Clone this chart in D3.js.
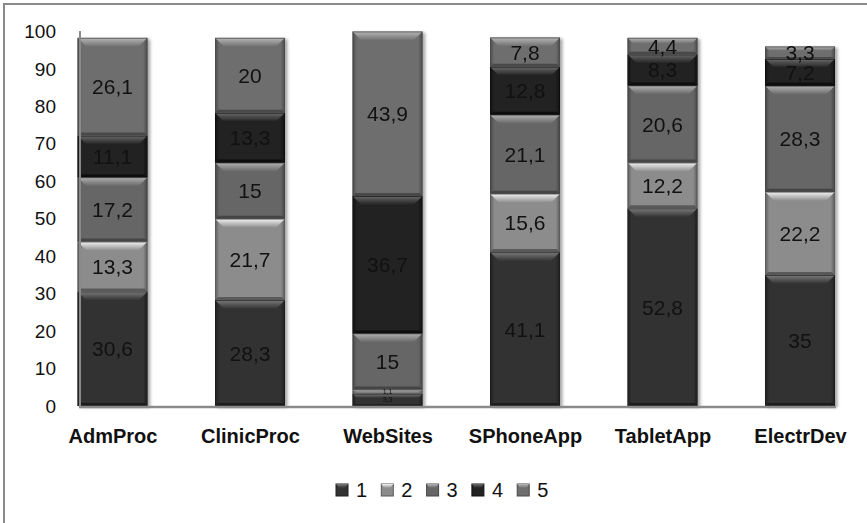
<!DOCTYPE html>
<html>
<head>
<meta charset="utf-8">
<script src="https://cdn.jsdelivr.net/npm/d3@7/dist/d3.min.js"></script>
<style>
  html, body { margin: 0; padding: 0; background: #fff; }
  svg { display: block; }
</style>
</head>
<body>
<svg id="chart" width="867" height="523"></svg>
<script>
// Categories and the five stacked series (percent shares)
const categories = ["AdmProc", "ClinicProc", "WebSites", "SPhoneApp", "TabletApp", "ElectrDev"];
const seriesNames = ["1", "2", "3", "4", "5"];
const series1 = [30.6, 28.3, 3.3, 41.1, 52.8, 35];
const series2 = [13.3, 21.7, 1.1, 15.6, 12.2, 22.2];
const series3 = [17.2, 15, 15, 21.1, 20.6, 28.3];
const series4 = [11.1, 13.3, 36.7, 12.8, 8.3, 7.2];
const series5 = [26.1, 20, 43.9, 7.8, 4.4, 3.3];
const yTicks = [0, 10, 20, 30, 40, 50, 60, 70, 80, 90, 100];

const allSeries = [series1, series2, series3, series4, series5];
const rows = categories.map((c, i) => {
  const r = { category: c };
  seriesNames.forEach((s, k) => { r[s] = allSeries[k][i]; });
  return r;
});

// Fill, bevel highlight and edge tones per series
const baseFill = ["#323232", "#8c8c8c", "#666666", "#222222", "#6e6e6e"];
const hiFill   = ["#7c7c7c", "#f4f4f4", "#b4b4b4", "#6a6a6a", "#b8b8b8"];
const edgeFill = ["#1e1e1e", "#5a5a5a", "#454545", "#111111", "#4a4a4a"];

const svg = d3.select("#chart");
const defs = svg.append("defs");

const shadow = defs.append("filter").attr("id", "shadow")
  .attr("x", "-10%").attr("y", "-5%").attr("width", "130%").attr("height", "115%");
shadow.append("feDropShadow").attr("dx", 2.5).attr("dy", 1.5)
  .attr("stdDeviation", 1.6).attr("flood-color", "#000").attr("flood-opacity", 0.35);

seriesNames.forEach((s, k) => {
  const g = defs.append("linearGradient").attr("id", "bevel" + k)
    .attr("x1", 0).attr("y1", 0).attr("x2", 0).attr("y2", 1);
  g.append("stop").attr("offset", "0%").attr("stop-color", hiFill[k]);
  g.append("stop").attr("offset", "100%").attr("stop-color", baseFill[k]);
  const b = defs.append("linearGradient").attr("id", "body" + k)
    .attr("x1", 0).attr("y1", 0).attr("x2", 1).attr("y2", 0);
  b.append("stop").attr("offset", "0%").attr("stop-color", edgeFill[k]);
  b.append("stop").attr("offset", "6%").attr("stop-color", baseFill[k]);
  b.append("stop").attr("offset", "94%").attr("stop-color", baseFill[k]);
  b.append("stop").attr("offset", "100%").attr("stop-color", edgeFill[k]);
});

// Outer chart border
svg.append("rect")
  .attr("x", 4).attr("y", 4).attr("width", 880).attr("height", 530)
  .attr("fill", "none").attr("stroke", "#8a8a8a").attr("stroke-width", 2);

// Scales
const y = d3.scaleLinear().domain([0, 100]).range([406, 31.5]);
const x = d3.scalePoint().domain(categories).range([112.5, 800]);
const barW = 70;

// Y axis labels
const yAxis = d3.axisLeft(y).tickValues(yTicks).tickSize(0).tickPadding(0);
const yG = svg.append("g").attr("transform", "translate(56,0)").call(yAxis);
yG.select(".domain").remove();
yG.selectAll("text")
  .attr("font-family", "Liberation Sans, Arial, sans-serif")
  .attr("font-size", 19).attr("fill", "#111");

// Stacked bars
const stack = d3.stack().keys(seriesNames)(rows);
const barsG = svg.append("g").attr("filter", "url(#shadow)");

stack.forEach((layer, k) => {
  layer.forEach((d, i) => {
    const x0 = x(categories[i]) - barW / 2;
    const yTop = y(d[1]);
    const yBot = y(d[0]);
    const h = yBot - yTop;
    const seg = barsG.append("g");
    seg.append("rect")
      .attr("x", x0).attr("y", yTop).attr("width", barW).attr("height", h)
      .attr("fill", `url(#body${k})`);
    // top bevel
    const bh = Math.min(9, h * 0.35);
    const inset = bh;
    seg.append("path")
      .attr("d", `M${x0},${yTop} L${x0 + barW},${yTop} L${x0 + barW - inset},${yTop + bh} L${x0 + inset},${yTop + bh} Z`)
      .attr("fill", `url(#bevel${k})`);
    // bottom edge
    const eh = Math.min(3, h * 0.15);
    seg.append("path")
      .attr("d", `M${x0},${yBot} L${x0 + barW},${yBot} L${x0 + barW - eh},${yBot - eh} L${x0 + eh},${yBot - eh} Z`)
      .attr("fill", edgeFill[k]);
    seg.append("rect")
      .attr("x", x0 + 0.5).attr("y", yTop + 0.5).attr("width", barW - 1).attr("height", Math.max(0, h - 1))
      .attr("fill", "none").attr("stroke", edgeFill[k]).attr("stroke-width", 1).attr("opacity", 0.7);
  });
});

// Value labels; thin slices at the foot of a bar get a tiny label
const labelsG = svg.append("g");
stack.forEach((layer, k) => {
  layer.forEach((d, i) => {
    const v = d[1] - d[0];
    const tiny = v < 5 && d[0] < 5;
    labelsG.append("text")
      .attr("x", x(categories[i]))
      .attr("y", (y(d[0]) + y(d[1])) / 2)
      .attr("text-anchor", "middle")
      .attr("dominant-baseline", "central")
      .attr("font-family", "Liberation Sans, Arial, sans-serif")
      .attr("font-size", tiny ? 7 : 21)
      .attr("fill", "#111")
      .text(String(v.toFixed(1)).replace(/\.0$/, "").replace(".", ","));
  });
});

// Axis lines
svg.append("line").attr("x1", 80).attr("x2", 80).attr("y1", 31).attr("y2", 407)
  .attr("stroke", "#8a8a8a").attr("stroke-width", 2);
svg.append("line").attr("x1", 79).attr("x2", 836).attr("y1", 407).attr("y2", 407)
  .attr("stroke", "#8a8a8a").attr("stroke-width", 2.5);

// Category labels
const xAxis = d3.axisBottom(x).tickSize(0).tickPadding(0);
const xG = svg.append("g").attr("transform", "translate(0,429)").call(xAxis);
xG.select(".domain").remove();
xG.selectAll("text")
  .attr("font-family", "Liberation Sans, Arial, sans-serif")
  .attr("font-weight", "bold").attr("font-size", 20).attr("fill", "#111");

// Legend
const legend = svg.append("g");
seriesNames.forEach((s, k) => {
  const lx = 336 + k * 45.3;
  const item = legend.append("g").attr("transform", `translate(${lx},484)`);
  item.append("rect").attr("width", 12).attr("height", 12).attr("fill", baseFill[k])
    .attr("stroke", edgeFill[k]).attr("stroke-width", 1);
  item.append("path").attr("d", "M0,0 L12,0 L9,4 L3,4 Z").attr("fill", `url(#bevel${k})`);
  item.append("text").attr("x", 20).attr("y", 6)
    .attr("dominant-baseline", "central")
    .attr("font-family", "Liberation Sans, Arial, sans-serif")
    .attr("font-size", 20).attr("fill", "#111").text(s);
});
</script>
</body>
</html>
